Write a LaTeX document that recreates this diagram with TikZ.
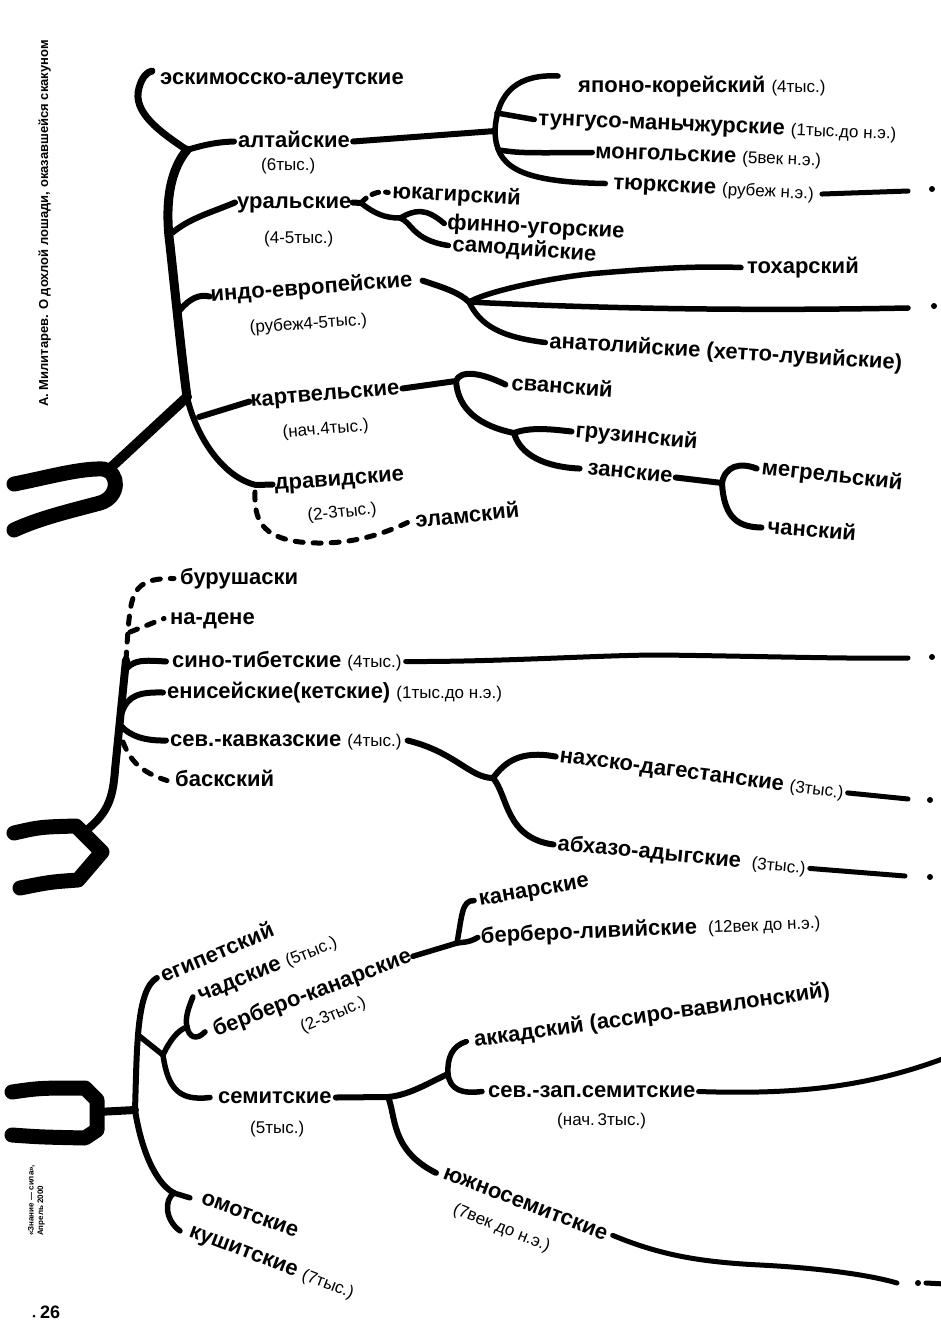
\documentclass[tikz,border=0pt]{standalone}
\usepackage{fontspec}
\setmainfont{Liberation Sans}
\newcommand\yr[1]{{\fontsize{17}{19}\selectfont\mdseries #1}}
\begin{document}
\begin{tikzpicture}[x=1pt,y=-1pt,
 lab/.style={anchor=base west, inner sep=0pt, text height=13pt, text depth=2pt, font=\fontsize{22}{24}\selectfont\bfseries},
 sub/.style={anchor=base west, inner sep=0pt, text height=12pt, text depth=2pt, font=\fontsize{17}{19}\selectfont},
 br/.style={line width=6pt, line cap=round, line join=round},
 trunk/.style={line width=8pt, line cap=round, line join=round},
 root/.style={line width=15pt, line cap=round, line join=round},
 dsh/.style={line width=5pt, line cap=round, dash pattern=on 8pt off 10pt},
 dot/.style={circle, fill, inner sep=0pt, minimum size=6pt},
]
\useasboundingbox (0,0) rectangle (941,1326);

% ---------- side texts ----------
\node[rotate=90, anchor=base west, inner sep=0pt, font=\fontsize{13}{15}\selectfont\bfseries] (auth) at (48,407)
  {А. Милитарев. О дохлой лошади, оказавшейся скакуном};
\node[rotate=90, anchor=south west, align=left, inner sep=0pt, font=\fontsize{8}{9.5}\selectfont\bfseries] (src) at (45,1236)
  {«Знание — сила»,\\Апрель 2000};
\node[anchor=base west, inner sep=0pt, font=\fontsize{18}{20}\selectfont\bfseries] (pg) at (40,1318) {26};
\fill (34,1316) circle (1.5);

% ---------- section 1: labels ----------
\node[lab] (eski) at (160,84) {эскимосско-алеутские};
\node[lab] (alt) at (238,147) {алтайские};
\node[sub] (altd) at (261,170) {(6тыс.)};
\node[lab] (ural) at (237,208) {уральские};
\node[sub] (urald) at (264,243) {(4-5тыс.)};
\node[lab,rotate=4.5] (ie) at (211,302) {индо-европейские};
\node[sub,rotate=4] (ied) at (250,333) {(рубеж4-5тыс.)};
\node[lab,rotate=5] (kart) at (251,407) {картвельские};
\node[sub,rotate=5] (kartd) at (283,438) {(нач.4тыс.)};
\node[lab,rotate=4] (drav) at (275,490) {дравидские};
\node[sub,rotate=6] (dravd) at (308,521) {(2-3тыс.)};
\node[lab,rotate=6] (elam) at (416,528) {эламский};

\node[lab] (jk) at (578,92) {японо-корейский \yr{(4тыс.)}};
\node[lab,rotate=-2.3] (tm) at (538,125) {тунгусо-маньчжурские \yr{(1тыс.до н.э.)}};
\node[lab,rotate=-2] (mg) at (595,158) {монгольские \yr{(5век н.э.)}};
\node[lab,rotate=-3] (tk) at (613,189) {тюркские \yr{(рубеж н.э.)}};

\node[lab,rotate=-3] (yuk) at (392,198) {юкагирский};
\node[lab,rotate=-3] (fu) at (447,229) {финно-угорские};
\node[lab,rotate=-4] (sam) at (452,251) {самодийские};

\node[lab] (toch) at (747,273) {тохарский};
\node[lab,rotate=-3.5] (anat) at (549,348) {анатолийские (хетто-лувийские)};

\node[lab,rotate=-4] (svan) at (511,390) {сванский};
\node[lab,rotate=-5.5] (gruz) at (575,437) {грузинский};
\node[lab,rotate=-6] (zan) at (587,474) {занские};
\node[lab,rotate=-6.5] (megr) at (761,474) {мегрельский};
\node[lab,rotate=-5] (chan) at (767,533) {чанский};

% ---------- section 1: connectors ----------
\draw[root] (14,484) .. controls (45,478) and (80,468) .. (103,469) .. controls (120,472) and (120,497) .. (100,503) .. controls (70,511) and (40,518) .. (14,530);
\coordinate (r1) at (187,397);
\coordinate (t0) at (187,150);
\coordinate (tu) at (172,233);
\coordinate (ti) at (180,310);
\coordinate (tk0) at (199,417);
\coordinate (e0) at (152,71);
\draw[trunk,line width=10pt] (106,472) -- (r1);
\draw[trunk,line width=9pt] (t0) .. controls (166,175) and (166,215) .. (170,245) .. controls (176,300) and (182,360) .. (r1);
\draw[trunk,line width=6pt] (r1) .. controls (197,440) and (225,478) .. (256,485) -- ([xshift=-2pt]drav.west);
\draw[trunk,line width=7pt] (t0) .. controls (160,132) and (132,112) .. (139,88) .. controls (142,77) and (147,72) .. (e0);
\draw[br] (t0) .. controls (200,146) and (215,142) .. ([xshift=-4pt]alt.west);
\draw[br] (tu) .. controls (190,218) and (210,213) .. ([xshift=-2pt]ural.west);
\draw[br] (ti) .. controls (190,298) and (200,294) .. ([xshift=-1pt]ie.west);
\draw[br] (tk0) -- ([xshift=-1pt]kart.west);
\draw[dsh] (255,492) .. controls (254,520) and (262,537) .. (300,542) .. controls (340,546) and (375,538) .. ([xshift=-8pt]elam.west);

% altaic
\coordinate (aj) at (495,131);
\coordinate (jk0) at (558,76);
\draw[br] ([xshift=3pt]alt.east) -- (aj);
\draw[br,line width=5.5pt] (jk0) .. controls (520,74) and (497,90) .. (aj) .. controls (496,165) and (515,182) .. ([xshift=-8pt]tk.west);
\draw[br,line width=5.5pt] (497,113) -- ([xshift=-4pt]tm.west);
\draw[br,line width=5.5pt] (499,150) .. controls (520,153) .. ([xshift=-3pt]mg.west);
\coordinate (tkend) at (908,191);
\draw[br,line width=5pt] ([xshift=8pt]tk.east) -- (tkend);
\node[dot] (tkdot) at (932,189) {};

% uralic
\coordinate (u0) at (361,203);
\coordinate (uj) at (400,218);
\draw[br] ([xshift=1pt]ural.east) -- (u0);
\draw[dsh, dash pattern=on 7pt off 7pt] (u0) .. controls (368,195) and (378,190) .. ([xshift=-4pt]yuk.west);
\draw[br,line width=5.5pt] (u0) .. controls (375,214) and (385,218) .. (uj);
\draw[br,line width=5.5pt] (uj) .. controls (415,210) and (425,207) .. ([xshift=-3pt]fu.west);
\draw[br,line width=5.5pt] (uj) .. controls (412,222) and (412,240) .. ([xshift=-4pt]sam.west);

% indo-european
\coordinate (ij) at (469,302);
\coordinate (iend) at (908,308);
\draw[br] ([xshift=10pt]ie.east) .. controls (445,288) and (460,293) .. (ij);
\draw[br,line width=5.5pt] (ij) .. controls (490,290) and (560,276) .. (600,273) .. controls (660,268) and (700,266) .. ([xshift=-6pt]toch.west);
\draw[br,line width=5.5pt] (ij) .. controls (550,306) and (700,312) .. (iend);
\node[dot] (idot) at (934,306) {};
\draw[br,line width=5.5pt] (ij) .. controls (480,325) and (500,337) .. ([xshift=-4pt]anat.west);

% kartvelian
\coordinate (kj) at (456,381);
\coordinate (gj) at (514,433);
\coordinate (zj) at (722,483);
\draw[br] ([xshift=3pt]kart.east) -- (kj);
\draw[br] (kj) .. controls (460,370) and (480,372) .. ([xshift=-6pt]svan.west);
\draw[br] (kj) .. controls (458,410) and (480,426) .. (gj);
\draw[br] (gj) .. controls (530,427) and (550,429) .. ([xshift=-4pt]gruz.west);
\draw[br] (gj) .. controls (520,455) and (545,467) .. ([xshift=-8pt]zan.west);
\draw[br] ([xshift=3pt]zan.east) -- (zj);
\draw[br] (zj) .. controls (725,466) and (740,462) .. ([xshift=-5pt]megr.west);
\draw[br] (zj) .. controls (724,520) and (740,527) .. ([xshift=-6pt]chan.west);

% ---------- section 2 ----------
\node[lab] (bur) at (180,584) {бурушаски};
\node[lab] (nad) at (170,624) {на-дене};
\node[lab] (sino) at (172,667) {сино-тибетские \yr{(4тыс.)}};
\node[lab] (yen) at (167,698) {енисейские(кетские) \yr{(1тыс.до н.э.)}};
\node[lab] (skav) at (170,746) {сев.-кавказские \yr{(4тыс.)}};
\node[lab] (bask) at (175,786) {баскский};
\node[lab,rotate=-7.3] (nakh) at (559,762) {нахско-дагестанские \yr{(3тыс.)}};
\node[lab,rotate=-5.5] (abh) at (557,850) {абхазо-адыгские\enspace\yr{(3тыс.)}};

\draw[root] (14,833) .. controls (40,827) .. (76,826) -- (102,852) -- (78,880) .. controls (50,882) .. (20,888);
\coordinate (m0) at (126,660);
\draw[trunk] (88,829) .. controls (108,812) and (113,798) .. (115,770) -- (m0);
\draw[dsh] (m0) .. controls (128,630) and (129,610) .. (133,598) .. controls (138,584) and (148,578) .. ([xshift=-6pt]bur.west);
\draw[dsh] (130,632) -- ([xshift=-6pt]nad.west);
\draw[br] (127,668) .. controls (135,660) and (143,660) .. ([xshift=-6pt]sino.west);
\draw[br] (122,712) .. controls (128,695) and (140,692) .. ([xshift=-4pt]yen.west);
\draw[br] (121,726) .. controls (130,736) and (145,741) .. ([xshift=-4pt]skav.west);
\draw[dsh] (123,742) .. controls (130,760) and (140,772) .. ([xshift=-8pt]bask.west);

\coordinate (send) at (908,658);
\draw[br,line width=5pt] ([xshift=4pt]sino.east) .. controls (500,662) and (600,655) .. (660,655) .. controls (750,656) and (850,659) .. (send);
\node[dot] (sdot) at (932,657) {};
\coordinate (nj) at (493,778);
\draw[br] ([xshift=6pt]skav.east) .. controls (455,752) and (470,778) .. (nj);
\draw[br] (nj) .. controls (505,762) and (520,750) .. ([xshift=-4pt]nakh.west);
\draw[br] (nj) .. controls (508,795) and (505,838) .. ([xshift=-4pt]abh.west);
\coordinate (nend) at (908,799);
\coordinate (aend) at (905,876);
\draw[br,line width=5pt] ([xshift=4pt]nakh.east) -- (nend);
\node[dot] (ndot) at (930,800) {};
\draw[br,line width=5pt] ([xshift=4pt]abh.east) -- (aend);
\node[dot] (adot) at (930,877) {};

% ---------- section 3 ----------
\node[lab,rotate=23] (egy) at (164,983) {египетский};
\node[lab,rotate=22] (chad) at (201,1002) {чадские \yr{(5тыс.)}};
\node[lab,rotate=21] (bk) at (216,1037) {берберо-канарские};
\node[sub,rotate=23] (bkd) at (303,1033) {(2-3тыс.)};
\node[lab] (sem) at (218,1103) {семитские};
\node[sub] (semd) at (250,1133) {(5тыс.)};
\node[lab,rotate=-20] (omo) at (200,1203) {омотские};
\node[lab,rotate=-21] (kush) at (188,1236) {кушитские \yr{(7тыс.)}};
\node[lab,rotate=10] (kan) at (480,906) {канарские};
\node[lab,rotate=2.5] (bl) at (481,943) {берберо-ливийские\enspace\yr{(12век до н.э.)}};
\node[lab,rotate=8] (akk) at (475,1047) {аккадский (ассиро-вавилонский)};
\node[lab] (nws) at (488,1097) {сев.-зап.семитские};
\node[sub] (nwsd) at (557,1125) {(нач.\,3тыс.)};
\node[lab,rotate=-21] (ssem) at (442,1178) {южносемитские};
\node[sub,rotate=-22] (ssemd) at (452,1213) {(7век до н.э.)};

\draw[root] (12,1092) .. controls (40,1088) .. (85,1088) -- (97,1100) -- (97,1130) -- (85,1138) .. controls (40,1137) .. (12,1135);
\coordinate (s0) at (135,1110);
\draw[trunk] (97,1112) -- (s0);
\draw[br] (s0) .. controls (137,1050) and (136,990) .. ([xshift=-5pt]egy.west);
\coordinate (oj) at (174,1193);
\draw[br] (s0) .. controls (143,1160) and (160,1186) .. (oj);
\draw[br,line width=5.5pt] (oj) -- ([xshift=-12pt]omo.west);
\draw[br,line width=5.5pt] (oj) .. controls (164,1200) and (165,1220) .. ([xshift=-10pt]kush.west);

\coordinate (b0) at (138,1035);
\coordinate (bj) at (163,1055);
\coordinate (cj) at (187,1027);
\draw[br,line width=5.5pt] (b0) -- (bj);
\draw[br,line width=5.5pt] (bj) .. controls (170,1040) and (178,1030) .. (cj);
\draw[br,line width=5.5pt] (cj) .. controls (185,1018) and (188,1009) .. ([xshift=-6pt]chad.west);
\draw[br,line width=5.5pt] (cj) .. controls (189,1037) and (196,1041) .. ([xshift=-9pt]bk.west);
\draw[br,line width=5.5pt] (bj) .. controls (168,1090) and (180,1101) .. ([xshift=-8pt]sem.west);

\coordinate (kj2) at (457,943);
\draw[br,line width=5.5pt] ([xshift=2pt]bk.east) -- (kj2);
\draw[br,line width=5.5pt] (kj2) .. controls (462,915) and (462,900) .. ([xshift=-5pt]kan.west);
\draw[br,line width=5.5pt] (kj2) .. controls (463,942) and (468,943) .. ([xshift=-3pt]bl.west);

\coordinate (sj) at (388,1097);
\coordinate (aj2) at (448,1074);
\coordinate (nwend) at (945,1058);
\draw[br] ([xshift=4pt]sem.east) -- (sj);
\draw[br] (sj) .. controls (410,1095) and (430,1082) .. (aj2);
\draw[br,line width=5.5pt] (aj2) .. controls (447,1058) and (452,1046) .. ([xshift=-8pt]akk.west);
\draw[br,line width=5.5pt] (aj2) .. controls (450,1090) and (462,1094) .. ([xshift=-6pt]nws.west);
\draw[br,line width=5pt] ([xshift=3pt]nws.east) .. controls (800,1095) and (870,1086) .. (nwend);
\draw[br] (sj) .. controls (396,1115) and (390,1150) .. ([xshift=-8pt]ssem.west);
\coordinate (ssend) at (897,1283);
\draw[br,line width=5pt] ([xshift=6pt]ssem.east) .. controls (660,1255) and (700,1262) .. (760,1265) .. controls (820,1268) and (870,1275) .. (ssend);
\node[dot] (ssdot) at (918,1283) {};
\coordinate (ssr) at (926,1283);
\coordinate (ssr2) at (945,1284);
\draw[br,line width=5pt] (ssr) -- (ssr2);
\end{tikzpicture}
\end{document}
